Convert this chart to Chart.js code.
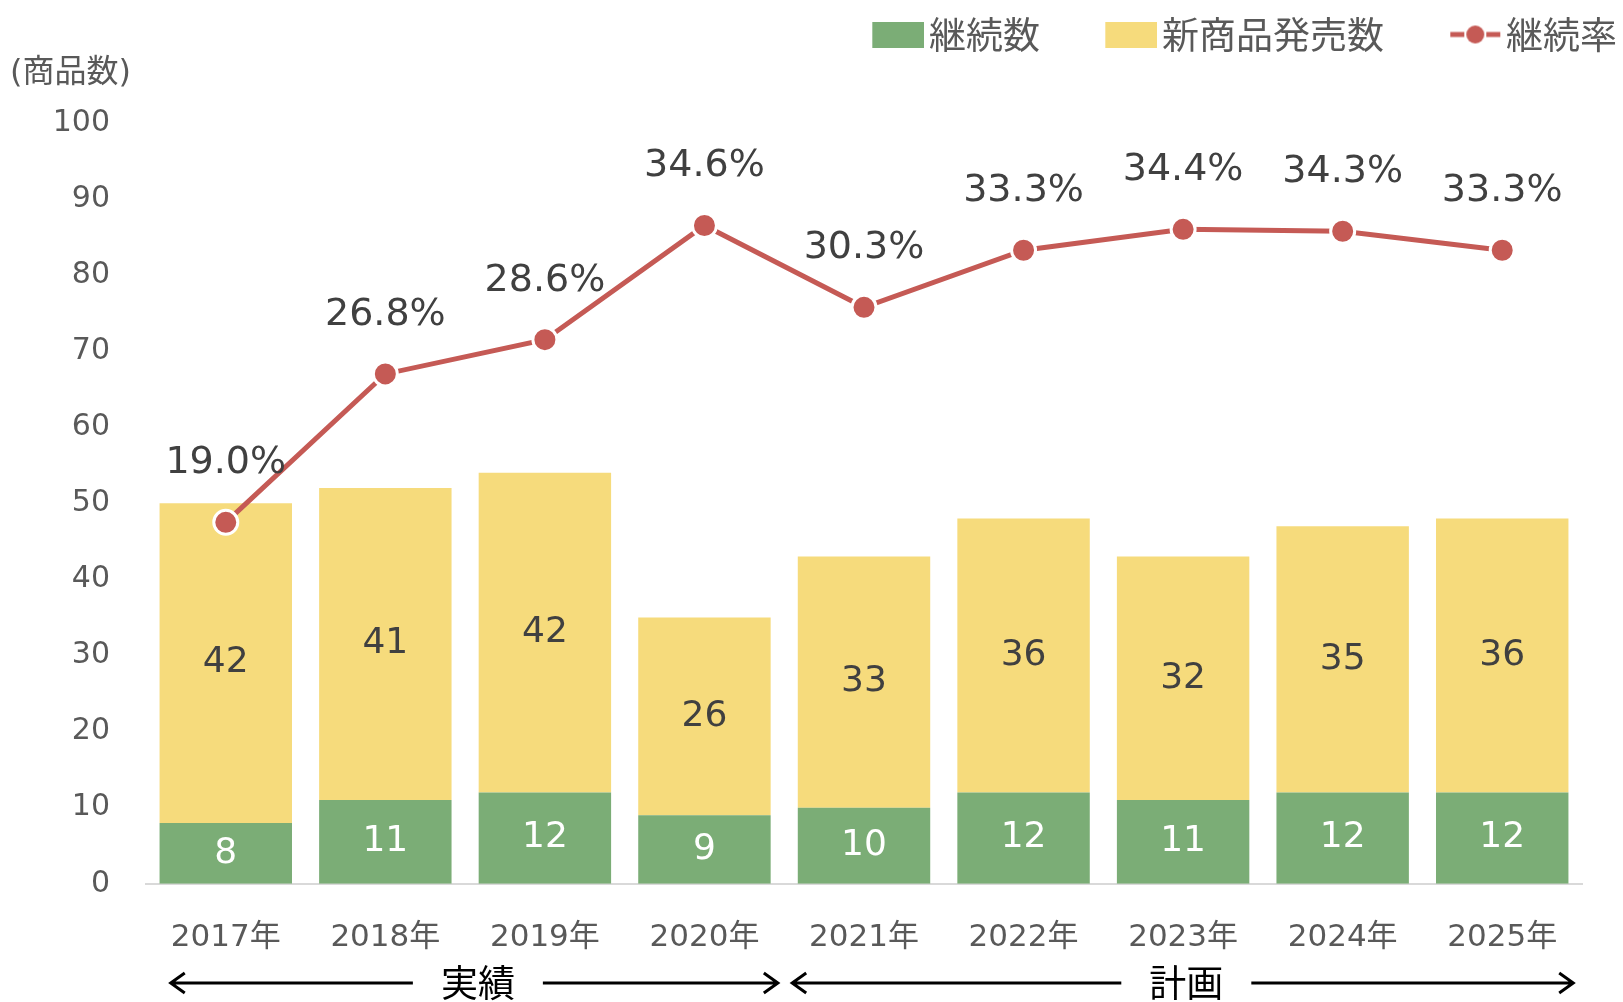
<!DOCTYPE html>
<html lang="ja">
<head>
<meta charset="utf-8">
<title>継続数・新商品発売数・継続率</title>
<script src="https://cdn.jsdelivr.net/npm/chart.js@4.4.1/dist/chart.umd.min.js"></script>
<style>
    html, body { margin: 0; padding: 0; background: #fff; }
    #wrap { width: 1623px; height: 1002px; }
</style>
</head>
<body>
<div id="wrap"><canvas id="myChart"></canvas></div>
<script>
const years = ['2017年', '2018年', '2019年', '2020年', '2021年', '2022年', '2023年', '2024年', '2025年'];
const continuing = [8, 11, 12, 9, 10, 12, 11, 12, 12];
const newProducts = [42, 41, 42, 26, 33, 36, 32, 35, 36];
const continuationRate = [19.0, 26.8, 28.6, 34.6, 30.3, 33.3, 34.4, 34.3, 33.3];
const seriesNames = ['継続数', '新商品発売数', '継続率'];
const periodNames = ['実績', '計画'];

const GREEN = '#7bad76';
const YELLOW = '#f6db7c';
const RED = '#c55a55';
const TEXT = '#595959';
const LATIN = '"DejaVu Sans", "Noto Sans CJK JP", sans-serif';
const CJK = '"Noto Sans CJK JP", sans-serif';

// legend icons: a transparent left margin in the image makes the gap between items
const ICON_W = 97.5;
function crearIcono(tipo, color) {
    const c = document.createElement('canvas');
    c.width = 125;
    c.height = 26;
    const g = c.getContext('2d');
    const x0 = c.width - 52;
    if (tipo === 'box') {
        g.fillStyle = color;
        g.fillRect(x0, 0, 52, 26);
    } else {
        g.strokeStyle = color;
        g.lineWidth = 5;
        g.beginPath();
        g.moveTo(x0 + 1, 13); g.lineTo(x0 + 15, 13);
        g.moveTo(x0 + 37, 13); g.lineTo(x0 + 51, 13);
        g.stroke();
        g.fillStyle = color;
        g.beginPath();
        g.arc(x0 + 26, 13, 9, 0, Math.PI * 2);
        g.fill();
    }
    return c;
}
const iconos = [crearIcono('box', GREEN), crearIcono('box', YELLOW), crearIcono('line', RED)];

const etiquetasPlugin = {
    id: 'etiquetas',
    afterDatasetsDraw(chart) {
        const ctx = chart.ctx;
        ctx.save();
        ctx.textAlign = 'center';
        ctx.textBaseline = 'middle';
        chart.data.datasets.forEach((ds, di) => {
            const meta = chart.getDatasetMeta(di);
            meta.data.forEach((el, i) => {
                if (ds.type === 'line') {
                    ctx.font = '38px ' + LATIN;
                    ctx.fillStyle = '#404040';
                    ctx.fillText(ds.data[i].toFixed(1) + '%', el.x, el.y - 59);
                } else {
                    ctx.font = '36px ' + LATIN;
                    ctx.fillStyle = di === 0 ? '#ffffff' : '#404040';
                    ctx.fillText(String(ds.data[i]), el.x, (el.y + el.base) / 2);
                }
            });
        });
        ctx.restore();
    }
};

// 実績 / 計画 arrows under the year labels
const periodosPlugin = {
    id: 'periodos',
    afterDraw(chart) {
        const ctx = chart.ctx;
        const x = chart.scales.x;
        const y = chart.height - 19;
        const tramos = [
            { from: -0.345, to: 3.46, mid: 1.58 },
            { from: 3.55, to: 8.445, mid: 6.02 }
        ];
        ctx.save();
        ctx.strokeStyle = '#000';
        ctx.fillStyle = '#000';
        ctx.lineWidth = 3;
        ctx.font = '37px ' + CJK;
        ctx.textAlign = 'center';
        ctx.textBaseline = 'middle';
        tramos.forEach((t, k) => {
            const a = x.getPixelForValue(t.from);
            const b = x.getPixelForValue(t.to);
            const m = x.getPixelForValue(t.mid);
            ctx.beginPath();
            ctx.moveTo(a, y); ctx.lineTo(m - 65, y);
            ctx.moveTo(m + 65, y); ctx.lineTo(b, y);
            ctx.moveTo(a + 14, y - 10); ctx.lineTo(a, y); ctx.lineTo(a + 14, y + 10);
            ctx.moveTo(b - 14, y - 10); ctx.lineTo(b, y); ctx.lineTo(b - 14, y + 10);
            ctx.stroke();
            ctx.fillText(periodNames[k], m, y);
        });
        ctx.restore();
    }
};

const ctx = document.getElementById('myChart').getContext('2d');
new Chart(ctx, {
    data: {
        labels: years,
        datasets: [
            {
                type: 'bar',
                label: seriesNames[0],
                data: continuing,
                backgroundColor: GREEN,
                stack: 's',
                order: 1
            },
            {
                type: 'bar',
                label: seriesNames[1],
                data: newProducts,
                backgroundColor: YELLOW,
                stack: 's',
                order: 1
            },
            {
                type: 'line',
                label: seriesNames[2],
                data: continuationRate,
                yAxisID: 'y1',
                borderColor: RED,
                borderWidth: 5,
                pointRadius: 12,
                pointBackgroundColor: RED,
                pointBorderColor: '#ffffff',
                pointBorderWidth: 3,
                order: 0
            }
        ]
    },
    options: {
        responsive: true,
        maintainAspectRatio: false,
        animation: false,
        datasets: {
            bar: { categoryPercentage: 1, barPercentage: 0.83 }
        },
        layout: { padding: { top: 10, right: 0, left: 10, bottom: 17 } },
        plugins: {
            tooltip: { enabled: false },
            legend: {
                position: 'top',
                align: 'end',
                weight: 3000,
                labels: {
                    usePointStyle: true,
                    pointStyleWidth: ICON_W,
                    padding: 6,
                    color: TEXT,
                    font: { family: CJK, size: 37 },
                    generateLabels: function(chart) {
                        return chart.data.datasets.map((ds, i) => ({
                            text: ds.label,
                            pointStyle: iconos[i],
                            datasetIndex: i,
                            hidden: false,
                            lineWidth: 0,
                            fillStyle: 'transparent',
                            strokeStyle: 'transparent',
                            fontColor: TEXT
                        }));
                    }
                }
            },
            title: {
                display: true,
                text: '(商品数)',
                align: 'start',
                color: TEXT,
                font: { family: LATIN, size: 32, weight: 'normal', lineHeight: 0.4 },
                padding: { top: 4, bottom: 43 }
            }
        },
        scales: {
            x: {
                stacked: true,
                grid: { display: false },
                border: { display: true, color: '#d9d9d9', width: 2 },
                ticks: { color: TEXT, font: { family: LATIN, size: 31 }, padding: 28 }
            },
            y: {
                stacked: true,
                min: 0,
                max: 100,
                grid: { display: false },
                border: { display: false },
                ticks: { stepSize: 10, color: TEXT, font: { family: LATIN, size: 30 }, padding: 28 },
                afterFit: function(scale) { scale.width = 136; }
            },
            y1: {
                position: 'right',
                min: 0,
                max: 40,
                grid: { display: false },
                border: { display: false },
                ticks: { display: false },
                afterFit: function(scale) { scale.width = 41; }
            }
        }
    },
    plugins: [etiquetasPlugin, periodosPlugin]
});
</script>
</body>
</html>
